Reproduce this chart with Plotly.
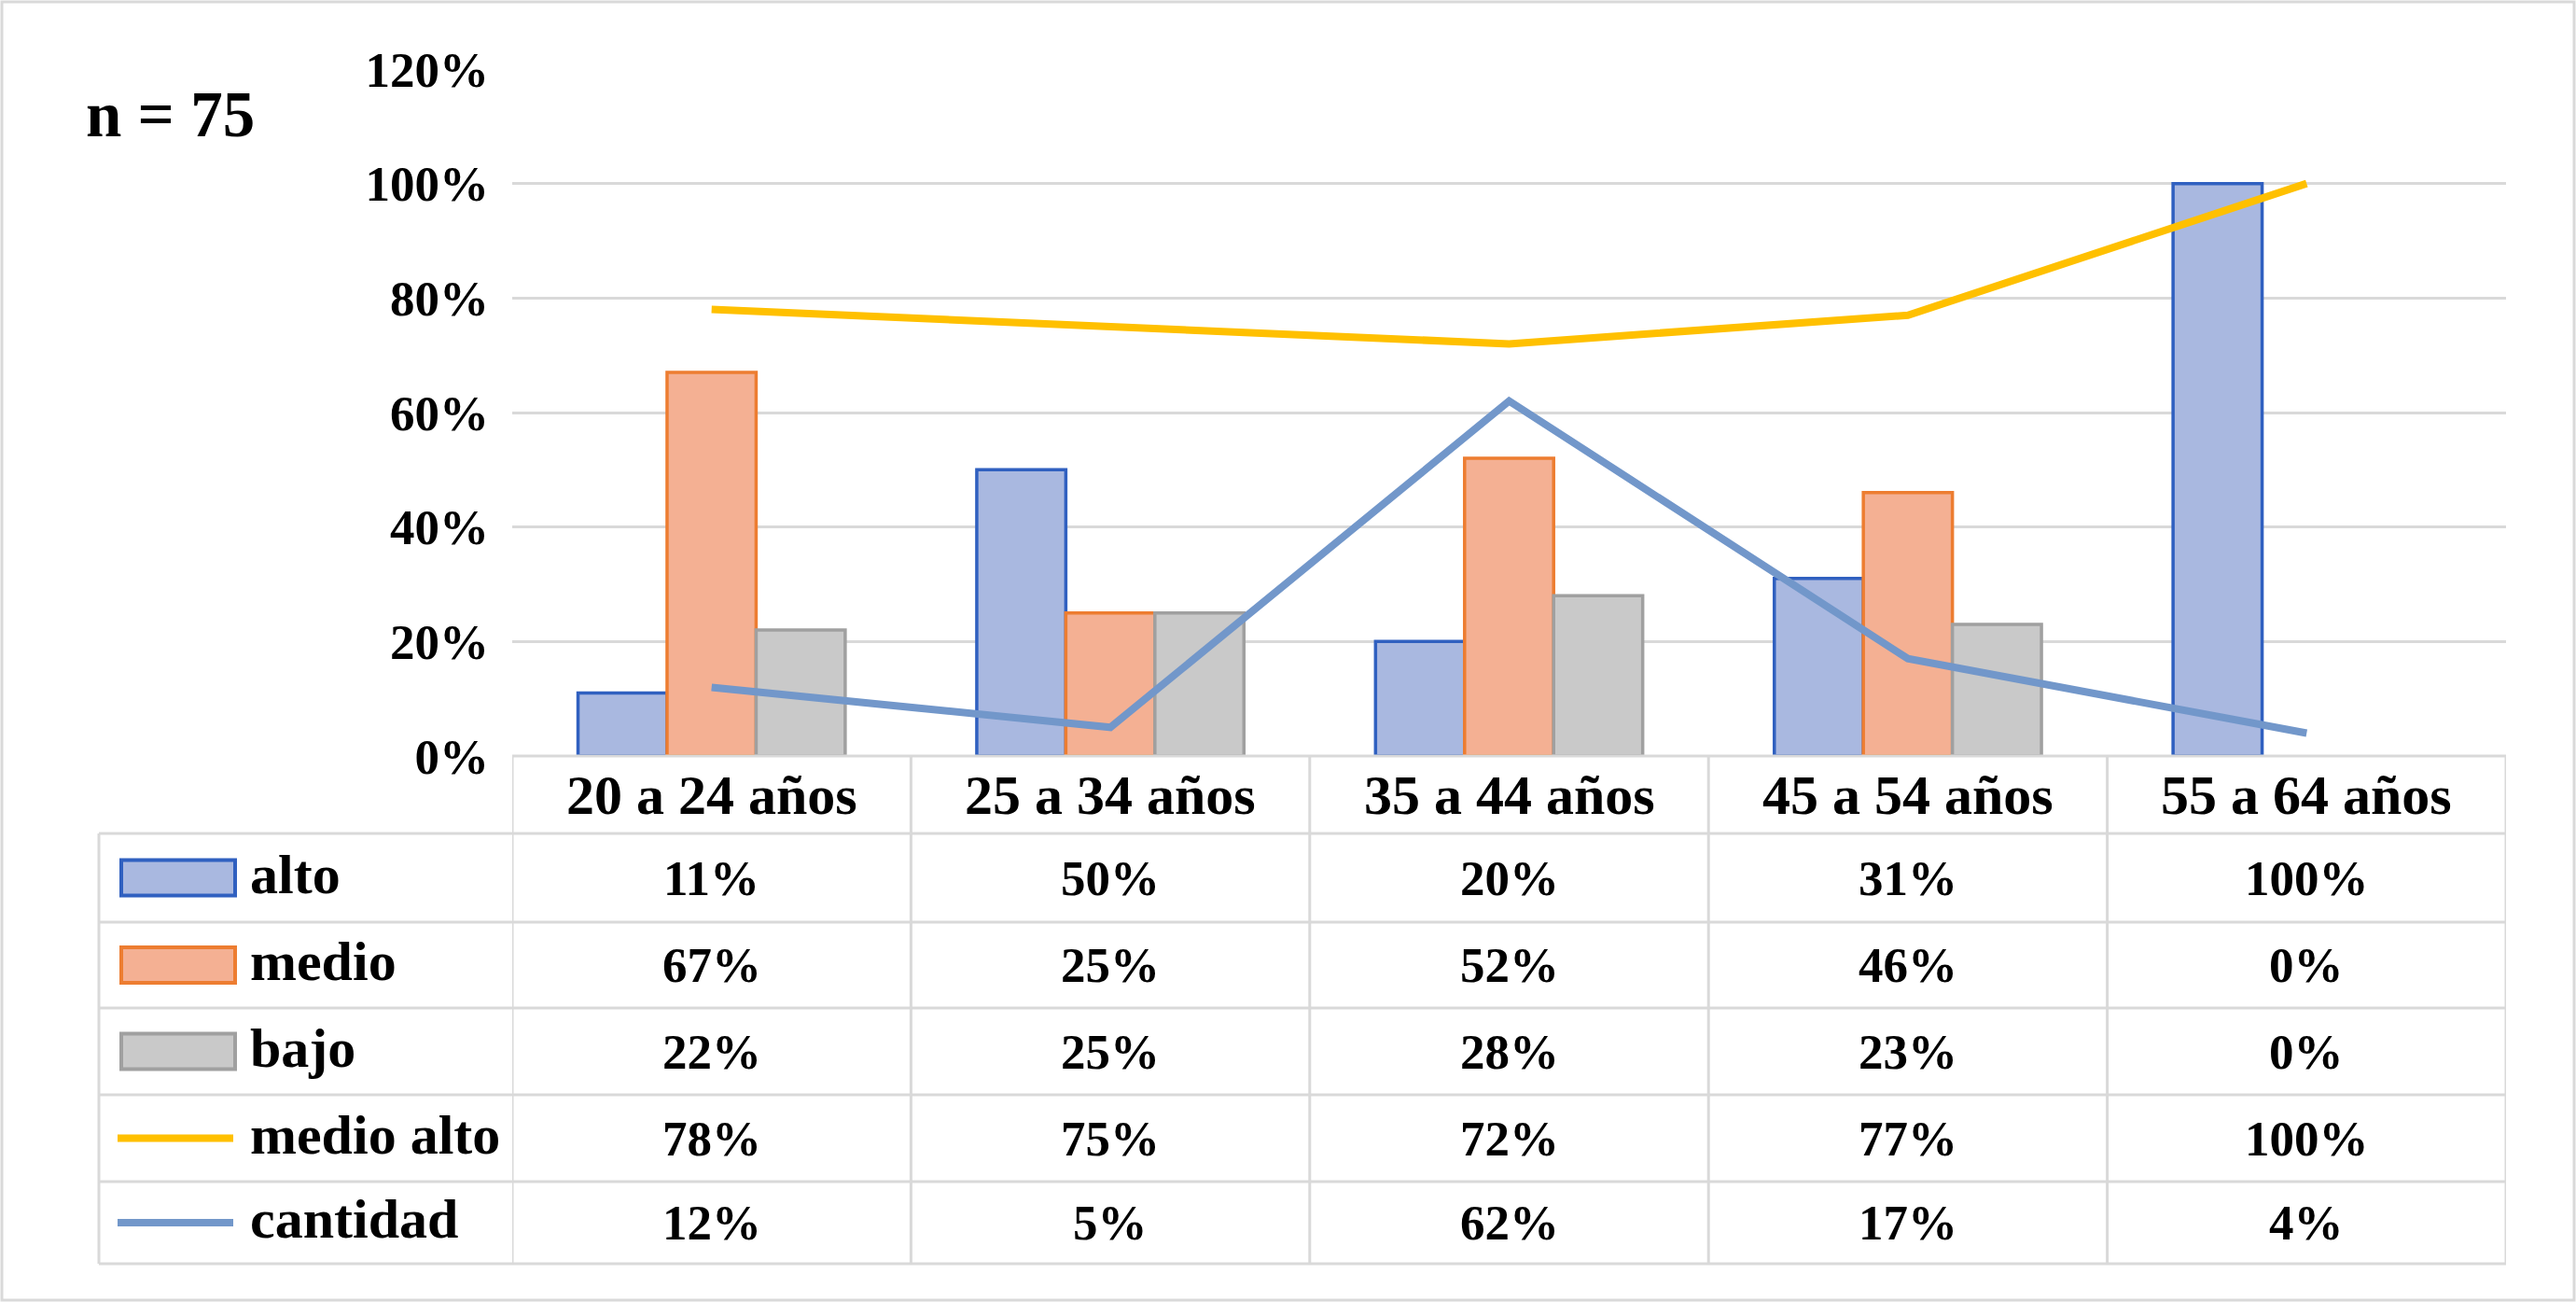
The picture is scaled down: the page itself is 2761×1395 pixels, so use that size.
import plotly.graph_objects as go

categories = ["20 a 24 años", "25 a 34 años", "35 a 44 años", "45 a 54 años", "55 a 64 años"]
alto = [11, 50, 20, 31, 100]
medio = [67, 25, 52, 46, 0]
bajo = [22, 25, 28, 23, 0]
medio_alto = [78, 75, 72, 77, 100]
cantidad = [12, 5, 62, 17, 4]
y_ticks = [0, 20, 40, 60, 80, 100, 120]
y_tick_labels = ["0%", "20%", "40%", "60%", "80%", "100%", "120%"]
sample_label = "n = 75"

W, H = 2761, 1395
FONT = "Liberation Serif"
GRID = "#D9D9D9"

def px_x(x):
    return x / W

def px_y(y):
    return 1 - y / H

plot_l, plot_r = 549, 2686
plot_t, plot_b = 74, 810
row_lines = [810, 893, 988, 1080, 1173, 1266, 1354]
table_l = 106

series = [
    ("alto", alto, "bar", "#A9B8E0", "#3060C0"),
    ("medio", medio, "bar", "#F4B093", "#ED7D31"),
    ("bajo", bajo, "bar", "#C9C9C9", "#A0A0A0"),
    ("medio alto", medio_alto, "line", "#FFC000", None),
    ("cantidad", cantidad, "line", "#7297CA", None),
]

fig = go.Figure()
for name, vals, kind, col, border in series:
    if kind == "bar":
        fig.add_trace(go.Bar(x=categories, y=vals, name=name,
                             marker=dict(color=col,
                                         line=dict(color=border,
                                                   width=[3.5 if v > 0 else 0 for v in vals])),
                             showlegend=False))
for name, vals, kind, col, border in series:
    if kind == "line":
        fig.add_trace(go.Scatter(x=categories, y=vals, name=name, mode="lines",
                                 line=dict(color=col, width=8), showlegend=False))

shapes = []
# outer frame
shapes.append(dict(type="rect", xref="paper", yref="paper", x0=px_x(2), x1=px_x(W - 2),
                   y0=px_y(H - 2), y1=px_y(2), line=dict(color=GRID, width=3)))
# table horizontal lines
for i, yy in enumerate(row_lines):
    x0 = plot_l if i == 0 else table_l
    shapes.append(dict(type="line", xref="paper", yref="paper", x0=px_x(x0), x1=px_x(plot_r),
                       y0=px_y(yy), y1=px_y(yy), line=dict(color=GRID, width=3)))
# table vertical lines at category boundaries
for k in range(len(categories) + 1):
    shapes.append(dict(type="line", xref="x", yref="paper", x0=k - 0.5, x1=k - 0.5,
                       y0=px_y(row_lines[0]), y1=px_y(row_lines[-1]),
                       line=dict(color=GRID, width=3)))
shapes.append(dict(type="line", xref="paper", yref="paper", x0=px_x(table_l), x1=px_x(table_l),
                   y0=px_y(row_lines[1]), y1=px_y(row_lines[-1]), line=dict(color=GRID, width=3)))

annotations = []
fs_val = 53
fs_lab = 60
# header
for c in categories:
    annotations.append(dict(x=c, xref="x", y=px_y((row_lines[0] + row_lines[1]) / 2), yref="paper",
                            xanchor="center", yanchor="middle",
                            text=f"<b>{c}</b>", showarrow=False,
                            font=dict(family=FONT, size=fs_lab, color="black")))
# rows
for r, (name, vals, kind, col, border) in enumerate(series):
    yc = (row_lines[r + 1] + row_lines[r + 2]) / 2
    for c, v in zip(categories, vals):
        annotations.append(dict(x=c, xref="x", y=px_y(yc), yref="paper",
                                xanchor="center", yanchor="middle",
                                text=f"<b>{v}%</b>", showarrow=False,
                                font=dict(family=FONT, size=fs_val, color="black")))
    annotations.append(dict(x=px_x(266), xref="paper", y=px_y(yc - 4), yref="paper",
                            xanchor="left", yanchor="middle",
                            text=f"<b>{name}</b>", showarrow=False,
                            font=dict(family=FONT, size=fs_lab, color="black")))
    if kind == "bar":
        shapes.append(dict(type="rect", xref="paper", yref="paper", x0=px_x(130), x1=px_x(252),
                           y0=px_y(yc + 19), y1=px_y(yc - 19),
                           fillcolor=col, line=dict(color=border, width=4)))
    else:
        shapes.append(dict(type="line", xref="paper", yref="paper", x0=px_x(126), x1=px_x(250),
                           y0=px_y(yc), y1=px_y(yc), line=dict(color=col, width=8)))

annotations.append(dict(x=px_x(90), xref="paper", y=px_y(123), yref="paper",
                        xanchor="left", yanchor="middle",
                        text=f"<b>{sample_label}</b>", showarrow=False,
                        font=dict(family=FONT, size=69, color="black")))

fig.update_layout(
    width=W, height=H,
    margin=dict(l=0, r=0, t=0, b=0, autoexpand=False),
    paper_bgcolor="white", plot_bgcolor="white",
    barmode="group", bargap=0.33, bargroupgap=0,
    shapes=shapes, annotations=annotations,
    xaxis=dict(domain=[px_x(plot_l), px_x(plot_r)], showticklabels=False, showgrid=False,
               zeroline=False, showline=False, range=[-0.5, 4.5], type="category"),
    yaxis=dict(domain=[px_y(plot_b), px_y(plot_t)], range=[0, 120],
               tickvals=y_ticks, ticktext=y_tick_labels,
               tickfont=dict(family=FONT, size=fs_val, color="black", weight="bold"),
               showgrid=True, gridcolor=GRID, gridwidth=3, zeroline=False,
               showline=False, ticklabelstandoff=24),
)

fig.write_html("out.html", config={"displayModeBar": False},
               post_script="document.body.style.margin='0';document.body.style.overflow='hidden';")
